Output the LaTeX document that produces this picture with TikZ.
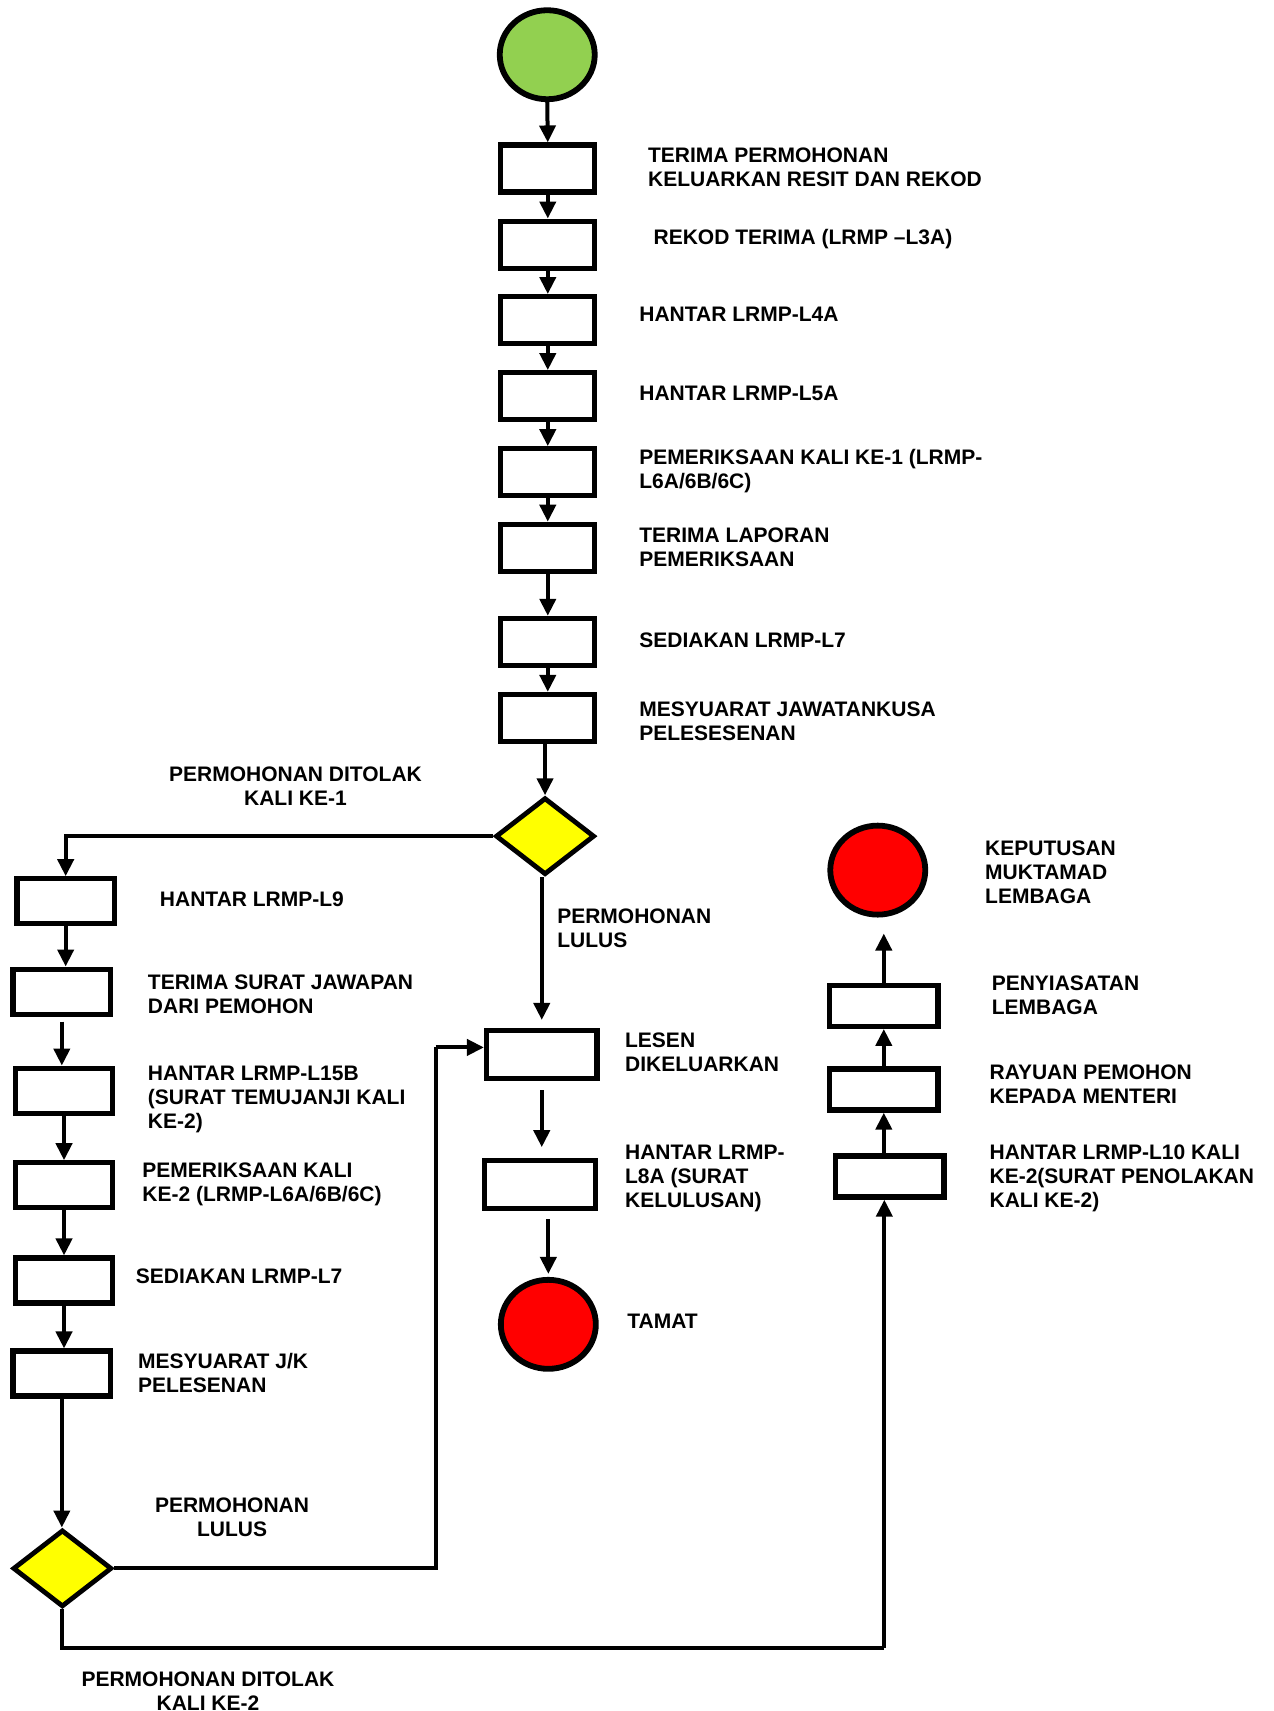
\documentclass[tikz,border=0pt]{standalone}
\usepackage{fontspec}
\setmainfont{Liberation Sans}
\usepackage{tikz}
\usetikzlibrary{shapes.geometric,arrows.meta}
\definecolor{startgreen}{HTML}{92D050}
\definecolor{endred}{HTML}{FF0000}
\definecolor{askyellow}{HTML}{FFFF00}

\begin{document}
\begin{tikzpicture}
  [x=1.0945pt,y=-1.0945pt,
   every node/.style={font=\bfseries\fontsize{21}{24}\selectfont},
   stepbox/.style={draw,line width=5.2pt,inner sep=0pt,minimum width=94pt,minimum height=47pt},
   sidebox/.style={stepbox,minimum width=97.5pt,minimum height=45pt},
   midbox/.style={stepbox,minimum width=110.5pt,minimum height=48pt},
   rightbox/.style={stepbox,minimum width=108.5pt,minimum height=41pt},
   blob/.style={ellipse,draw,line width=5.8pt,inner sep=0pt,minimum width=95pt,minimum height=89pt},
   ask/.style={diamond,draw,fill=askyellow,line width=4.8pt,inner sep=0pt,minimum width=99pt,minimum height=77pt},
   txt/.style={anchor=west,align=left,inner sep=0pt,yshift=2.2pt},
   ctxt/.style={align=center,inner sep=0pt,yshift=2.2pt},
   conn/.style={line width=4pt,-{Triangle[length=17pt,width=16pt]}},
   line/.style={line width=4pt}]

  \useasboundingbox (0,0) rectangle (1164,1563.3);

  \node[blob,fill=startgreen] (s) at (500,50) {};
  \node[stepbox] (b1) at (500.5,154) {};
  \node[stepbox] (b2) at (500.5,223.5) {};
  \node[stepbox] (b3) at (500.5,292.5) {};
  \node[stepbox] (b4) at (500.5,362) {};
  \node[stepbox] (b5) at (500.5,431.5) {};
  \node[stepbox] (b6) at (500.5,500.5) {};
  \node[stepbox] (b7) at (500.5,586.5) {};
  \node[stepbox] (b8) at (500.5,656) {};
  \node[ask] (d1) at (498,764) {};

  \node[sidebox] (l1) at (60,823.5) {};
  \node[sidebox] (l2) at (56.5,906) {};
  \node[sidebox] (l3) at (58.5,996.5) {};
  \node[sidebox] (l4) at (58.5,1083) {};
  \node[sidebox] (l5) at (58.5,1170) {};
  \node[sidebox] (l6) at (56.5,1255) {};
  \node[ask] (d2) at (57,1433) {};

  \node[midbox] (c1) at (495,963.5) {};
  \node[midbox] (c2) at (493.5,1082.5) {};
  \node[blob,fill=endred] (e1) at (501,1210) {};

  \node[rightbox] (r1) at (813,1075) {};
  \node[rightbox] (r2) at (807.5,995.5) {};
  \node[rightbox] (r3) at (807.5,919) {};
  \node[blob,fill=endred] (e2) at (802,795) {};

  \coordinate (k1) at (398,957);
  \coordinate (k2) at (808,1506);

  \node[txt] (t1) at (592,155) {TERIMA PERMOHONAN\\KELUARKAN RESIT DAN REKOD};
  \node[txt] (t2) at (597,220) {REKOD TERIMA (LRMP –L3A)};
  \node[txt] (t3) at (584,289) {HANTAR LRMP-L4A};
  \node[txt] (t4) at (584,361) {HANTAR LRMP-L5A};
  \node[txt] (t5) at (584,432) {PEMERIKSAAN KALI KE-1 (LRMP-\\L6A/6B/6C)};
  \node[txt] (t6) at (584,502) {TERIMA LAPORAN\\PEMERIKSAAN};
  \node[txt] (t7) at (584,587) {SEDIAKAN LRMP-L7};
  \node[txt] (t8) at (584,661) {MESYUARAT JAWATANKUSA\\PELESESENAN};
  \node[ctxt] (q1) at (270,720) {PERMOHONAN DITOLAK\\KALI KE-1};
  \node[txt] (q2) at (509,850) {PERMOHONAN\\LULUS};

  \node[txt] (u1) at (146,824) {HANTAR LRMP-L9};
  \node[txt] (u2) at (135,910.5) {TERIMA SURAT JAWAPAN\\DARI PEMOHON};
  \node[txt] (u3) at (135,1006.5) {HANTAR LRMP-L15B\\(SURAT TEMUJANJI KALI\\KE-2)};
  \node[txt] (u4) at (130,1084) {PEMERIKSAAN KALI\\KE-2 (LRMP-L6A/6B/6C)};
  \node[txt] (u5) at (124,1168) {SEDIAKAN LRMP-L7};
  \node[txt] (u6) at (126,1256.5) {MESYUARAT J/K\\PELESENAN};
  \node[ctxt] (q3) at (212,1388.5) {PERMOHONAN\\LULUS};
  \node[ctxt] (q4) at (190,1547) {PERMOHONAN DITOLAK\\KALI KE-2};

  \node[txt] (v1) at (571,963) {LESEN\\DIKELUARKAN};
  \node[txt] (v2) at (571,1079) {HANTAR LRMP-\\L8A (SURAT\\KELULUSAN)};
  \node[txt] (v3) at (573,1209) {TAMAT};

  \node[txt] (w1) at (900,799) {KEPUTUSAN\\MUKTAMAD\\LEMBAGA};
  \node[txt] (w2) at (906,911) {PENYIASATAN\\LEMBAGA};
  \node[txt] (w3) at (904,992.5) {RAYUAN PEMOHON\\KEPADA MENTERI};
  \node[txt] (w4) at (904,1079) {HANTAR LRMP-L10 KALI\\KE-2(SURAT PENOLAKAN\\KALI KE-2)};

  \foreach \from/\to in {s/b1,b1/b2,b2/b3,b3/b4,b4/b5,b5/b6,b6/b7,b7/b8}
    \draw[conn] (\from.south) -- (\to.north);
  \foreach \from/\to in {l1/l2,l3/l4,l4/l5,l5/l6,l6/d2}
    \draw[conn] (\from.south) -- (\from.south |- \to.north);
  \draw[conn,shorten <=5pt] (l2.south) -- (l2.south |- l3.north);
  \draw[conn] (d1.north |- b8.south) -- (d1.north);
  \draw[conn] (d1.west) -| (l1.north);
  \draw[conn,shorten >=8pt] (c1.north |- d1.south) -- (c1.north);
  \draw[conn,shorten <=9pt,shorten >=11pt] (c1.south) -- (c1.south |- c2.north);
  \draw[conn,shorten <=8pt,shorten >=3pt] (e1.north |- c2.south) -- (e1.north);
  \draw[line] (d2.east) -| (k1);
  \draw[conn] (k1) -- (c1.west |- k1);
  \draw[line] (d2.south) |- (k2);
  \draw[conn] (k2) -- (k2 |- r1.south);
  \draw[conn] (r2.south |- r1.north) -- (r2.south);
  \draw[conn] (r3.south |- r2.north) -- (r3.south);
  \draw[conn,shorten >=16pt] (r3.north) -- (r3.north |- e2.south);
\end{tikzpicture}
\end{document}
